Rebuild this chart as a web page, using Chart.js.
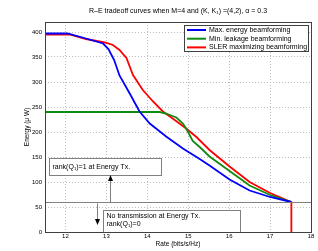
<!DOCTYPE html>
<html>
<head>
<meta charset="utf-8">
<script src="https://cdn.jsdelivr.net/npm/chart.js@4.4.1/dist/chart.umd.min.js"></script>
<style>
html,body{margin:0;padding:0;background:#fff;}
#wrap{width:318px;height:251px;position:relative;}
</style>
</head>
<body>
<div id="wrap"><canvas id="c" width="318" height="251"></canvas></div>
<script>
// ---- data ----
const titleText = "R\u2013E tradeoff curves when M=4 and (K, K\u2081) =(4,2), \u03b1 = 0.3";
const xLabel = "Rate (bits/s/Hz)";
const yLabel = "Energy (\u03bc W)";
const xTicks = [12, 13, 14, 15, 16, 17, 18];
const yTicks = [0, 50, 100, 150, 200, 250, 300, 350, 400];
const seriesNames = ["Max. energy beamforming", "Min. leakage beamforming", "SLER maximizing beamforming"];

const blueRate   = [11.5, 12.05, 12.5, 12.92, 13.05, 13.19, 13.32, 13.57, 13.81, 14.06, 14.46, 14.87, 15.28, 15.52, 16.01, 16.5, 17.0, 17.52];
const blueEnergy = [397, 397, 387, 377, 366, 344, 313, 277, 241, 217, 191, 167, 146, 133, 105, 83, 70, 60];

const greenRate   = [11.5, 14.3, 14.46, 14.71, 14.87, 14.97, 15.11, 15.28, 15.52, 16.01, 16.5, 17.0, 17.52];
const greenEnergy = [240, 240, 237, 229, 217, 204, 182, 170, 151, 122, 93, 74, 60];

const redRate   = [11.5, 12.1, 12.5, 12.96, 13.16, 13.32, 13.49, 13.65, 13.89, 14.14, 14.38, 14.62, 14.95, 15.2, 15.52, 16.01, 16.5, 17.0, 17.52, 17.52];
const redEnergy = [395, 395, 386, 379, 374, 364, 348, 314, 284, 261, 241, 227, 207, 190, 164, 131, 100, 78, 60, 0];

// annotations (data coordinates)
const thresholdEnergy = 60;
const box1 = {x0: 11.6, x1: 14.34, y0: 114, y1: 148, lines: ["rank(Q\u2081)=1 at Energy Tx."]};
const box2 = {x0: 12.92, x1: 16.26, y0: 0, y1: 45, lines: ["No transmission at Energy Tx.", "rank(Q\u2081)=0"]};
const upArrow = {x: 13.08, from: 60, to: 114};
const downArrow = {x: 12.77, from: 57, to: 14};

const colors = ["#0000ff", "#108a10", "#ff0000"];
const FONT = "'Liberation Sans', Arial, sans-serif";

function pts(xs, ys){ return xs.map((x,i)=>({x:x, y:ys[i]})); }

const overlay = {
  id: 'overlay',
  afterDatasetsDraw(chart){
    const ctx = chart.ctx, xs = chart.scales.x, ys = chart.scales.y, a = chart.chartArea;
    ctx.save();
    // threshold line
    ctx.strokeStyle = '#808080'; ctx.lineWidth = 1;
    const yt = Math.round(ys.getPixelForValue(thresholdEnergy)) + 0.5;
    ctx.beginPath(); ctx.moveTo(a.left, yt); ctx.lineTo(a.right, yt); ctx.stroke();
    // boxes
    function drawBox(b, dy){
      const l = Math.round(xs.getPixelForValue(b.x0))+0.5, r = Math.round(xs.getPixelForValue(b.x1))+0.5;
      const t = Math.round(ys.getPixelForValue(b.y1))+0.5, bo = Math.round(ys.getPixelForValue(b.y0))+0.5;
      ctx.fillStyle = '#fff'; ctx.fillRect(l, t, r-l, bo-t);
      ctx.strokeStyle = '#808080'; ctx.lineWidth = 1; ctx.strokeRect(l, t, r-l, bo-t);
      ctx.fillStyle = '#000'; ctx.font = '7px ' + FONT; ctx.textBaseline = 'middle'; ctx.textAlign = 'left';
      b.lines.forEach((s,i)=>ctx.fillText(s, l+3, t + dy + i*8));
    }
    drawBox(box1, 8.5);
    drawBox(box2, 6);
    // arrows
    function arrow(ar){
      const x = Math.round(xs.getPixelForValue(ar.x))+0.5;
      const y0 = ys.getPixelForValue(ar.from), y1 = ys.getPixelForValue(ar.to);
      const dir = y1 < y0 ? -1 : 1;
      ctx.strokeStyle = '#808080'; ctx.lineWidth = 1;
      ctx.beginPath(); ctx.moveTo(x, y0); ctx.lineTo(x, y1 - dir*5); ctx.stroke();
      ctx.fillStyle = '#000';
      ctx.beginPath(); ctx.moveTo(x, y1); ctx.lineTo(x-2.5, y1 - dir*6); ctx.lineTo(x+2.5, y1 - dir*6); ctx.closePath(); ctx.fill();
    }
    arrow(upArrow); arrow(downArrow);
    // legend
    const lx0 = 184.5, ly0 = 25.5, lw = 124, lh = 26;
    ctx.fillStyle = '#fff'; ctx.fillRect(lx0, ly0, lw, lh);
    ctx.strokeStyle = '#404040'; ctx.lineWidth = 1; ctx.strokeRect(lx0, ly0, lw, lh);
    ctx.font = '7px ' + FONT; ctx.textBaseline = 'middle'; ctx.textAlign = 'left';
    chart.data.datasets.forEach((ds,i)=>{
      const yy = 30 + i*8.7;
      ctx.strokeStyle = ds.borderColor; ctx.lineWidth = 2;
      ctx.beginPath(); ctx.moveTo(187, yy); ctx.lineTo(206, yy); ctx.stroke();
      ctx.fillStyle = '#000'; ctx.fillText(ds.label, 209, yy);
    });
    ctx.restore();
  },
  afterDraw(chart){
    const ctx = chart.ctx, a = chart.chartArea;
    ctx.save();
    // frame
    ctx.strokeStyle = '#404040'; ctx.lineWidth = 1;
    ctx.strokeRect(Math.round(a.left)+0.5, Math.round(a.top)+0.5, Math.round(a.right-a.left), Math.round(a.bottom-a.top));
    // title
    ctx.fillStyle = '#000'; ctx.textAlign = 'center'; ctx.textBaseline = 'middle';
    ctx.font = '7px ' + FONT;
    ctx.fillText(titleText, (a.left+a.right)/2, 11);
    // x label
    ctx.font = '6.5px ' + FONT;
    ctx.fillText(xLabel, (a.left+a.right)/2, 244);
    // y label
    ctx.translate(27, (a.top+a.bottom)/2); ctx.rotate(-Math.PI/2);
    ctx.fillText(yLabel, 0, 0);
    ctx.restore();
  }
};

new Chart(document.getElementById('c'), {
  type: 'line',
  data: {
    datasets: [
      {label: seriesNames[0], data: pts(blueRate, blueEnergy), borderColor: colors[0]},
      {label: seriesNames[1], data: pts(greenRate, greenEnergy), borderColor: colors[1]},
      {label: seriesNames[2], data: pts(redRate, redEnergy), borderColor: colors[2]}
    ]
  },
  options: {
    responsive: false, animation: false,
    devicePixelRatio: 1,
    layout: {padding: {left: 0, right: 7, top: 22, bottom: 0}},
    elements: {line: {borderWidth: 1.8, tension: 0, fill: false}, point: {radius: 0}},
    plugins: {legend: {display: false}, title: {display: false}, tooltip: {enabled: false}},
    scales: {
      x: {
        type: 'linear', min: 11.5, max: 18,
        ticks: {stepSize: 1, font: {size: 6, family: FONT}, color: '#000', padding: 1, maxRotation: 0, autoSkip: false},
        afterBuildTicks(s){ s.ticks = xTicks.map(v=>({value:v})); },
        afterFit(s){ s.height = 19; },
        grid: {color: '#bdbdbd', lineWidth: 1, drawTicks: false, tickLength: 0},
        border: {display: false, dash: [1,2]}
      },
      y: {
        type: 'linear', min: 0, max: 420,
        ticks: {stepSize: 50, font: {size: 6, family: FONT}, color: '#000', padding: 3},
        afterBuildTicks(s){ s.ticks = yTicks.map(v=>({value:v})); },
        afterFit(s){ s.width = 45; },
        grid: {color: '#bdbdbd', lineWidth: 1, drawTicks: false, tickLength: 0},
        border: {display: false, dash: [1,2]}
      }
    }
  },
  plugins: [overlay]
});
</script>
</body>
</html>
